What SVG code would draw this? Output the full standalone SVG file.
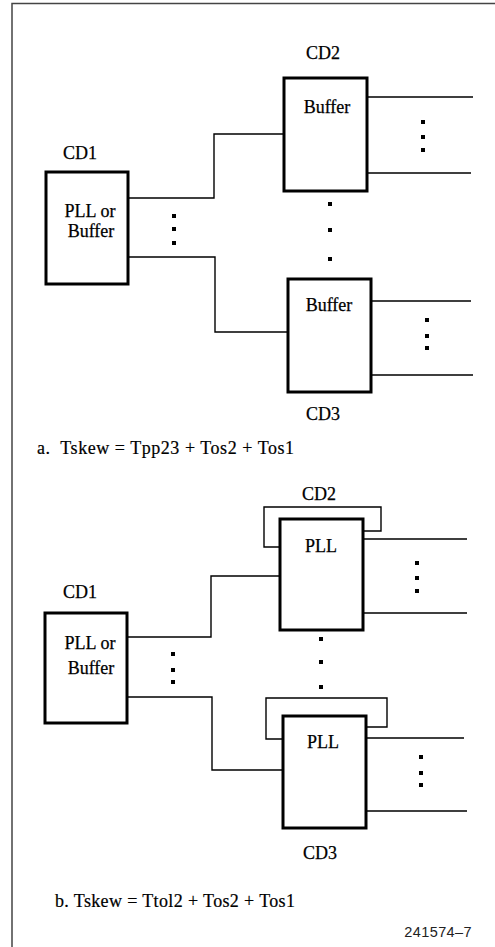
<svg xmlns="http://www.w3.org/2000/svg" width="495" height="947" viewBox="0 0 495 947">
<style>
.box{fill:#fff;stroke:#000;stroke-width:3}
.ln{fill:none;stroke:#000;stroke-width:1.4}
.t{font-family:"Liberation Serif",serif;font-size:18px;fill:#000;stroke:#000;stroke-width:0.25}
.c{text-anchor:middle}
.cap{font-family:"Liberation Serif",serif;font-size:18px;fill:#000;stroke:#000;stroke-width:0.2}
.num{font-family:"Liberation Sans",Arial,sans-serif;font-size:14.5px;fill:#222;text-anchor:end;letter-spacing:0.4px}
.frame{fill:none;stroke:#444;stroke-width:1.5}
</style>
<rect width="495" height="947" fill="#fff"/>
<path class="frame" d="M12 947 V3.5 H495"/>

<g id="connectors">
<path class="ln" d="M128 198 H214 V134 H283"/>
<path class="ln" d="M128 257 H215 V332 H287"/>
<path class="ln" d="M367 97 H473 M367 173 H471"/>
<path class="ln" d="M371 301 H471 M371 375 H473"/>
<path class="ln" d="M127 637 H211 V576 H280"/>
<path class="ln" d="M127 697 H212 V770 H283"/>
<path class="ln" d="M279 547 H264 V507 H381 V531 H363"/>
<path class="ln" d="M283 739 H266 V698 H387 V727 H366"/>
<path class="ln" d="M363 539 H467 M363 613 H467"/>
<path class="ln" d="M366 738 H464 M366 811 H467"/>
</g>

<g id="dots" fill="#000">
<rect x="172" y="214" width="4" height="4"/><rect x="172" y="227" width="4" height="4"/><rect x="172" y="241" width="4" height="4"/>
<rect x="328" y="202" width="4" height="4"/><rect x="328" y="228" width="4" height="4"/><rect x="328" y="257" width="4" height="4"/>
<rect x="421" y="120" width="4" height="4"/><rect x="421" y="135" width="4" height="4"/><rect x="421" y="148" width="4" height="4"/>
<rect x="425" y="318" width="4" height="4"/><rect x="425" y="334" width="4" height="4"/><rect x="425" y="346" width="4" height="4"/>
<rect x="171" y="652" width="4" height="4"/><rect x="171" y="668" width="4" height="4"/><rect x="171" y="680" width="4" height="4"/>
<rect x="319" y="637" width="4" height="4"/><rect x="319" y="660" width="4" height="4"/><rect x="319" y="685" width="4" height="4"/>
<rect x="415" y="561" width="4" height="4"/><rect x="415" y="576" width="4" height="4"/><rect x="415" y="589" width="4" height="4"/>
<rect x="419" y="755" width="4" height="4"/><rect x="419" y="771" width="4" height="4"/><rect x="419" y="783" width="4" height="4"/>
</g>

<g id="a-cd1">
<rect class="box" x="46" y="172" width="82" height="112"/>
<text class="t c" x="80" y="159">CD1</text>
<text class="t c" x="90" y="217">PLL or</text>
<text class="t c" x="91" y="237">Buffer</text>
</g>
<g id="a-cd2">
<rect class="box" x="284" y="78" width="83" height="113"/>
<text class="t c" x="323" y="59">CD2</text>
<text class="t c" x="327" y="113">Buffer</text>
</g>
<g id="a-cd3">
<rect class="box" x="288" y="279" width="83" height="113"/>
<text class="t c" x="323" y="420">CD3</text>
<text class="t c" x="329" y="311">Buffer</text>
</g>
<text class="cap" x="37" y="454" textLength="257" lengthAdjust="spacing" xml:space="preserve">a.  Tskew = Tpp23 + Tos2 + Tos1</text>

<g id="b-cd1">
<rect class="box" x="45" y="613" width="82" height="110"/>
<text class="t c" x="80" y="598">CD1</text>
<text class="t c" x="90" y="649">PLL or</text>
<text class="t c" x="91" y="674">Buffer</text>
</g>
<g id="b-cd2">
<rect class="box" x="280" y="519" width="83" height="111"/>
<text class="t c" x="319" y="500">CD2</text>
<text class="t c" x="321" y="552">PLL</text>
</g>
<g id="b-cd3">
<rect class="box" x="283" y="716" width="83" height="112"/>
<text class="t c" x="320" y="859">CD3</text>
<text class="t c" x="323" y="748">PLL</text>
</g>
<text class="cap" x="55" y="907" textLength="240" lengthAdjust="spacing">b. Tskew = Ttol2 + Tos2 + Tos1</text>
<text class="num" x="472" y="937">241574–7</text>
</svg>
